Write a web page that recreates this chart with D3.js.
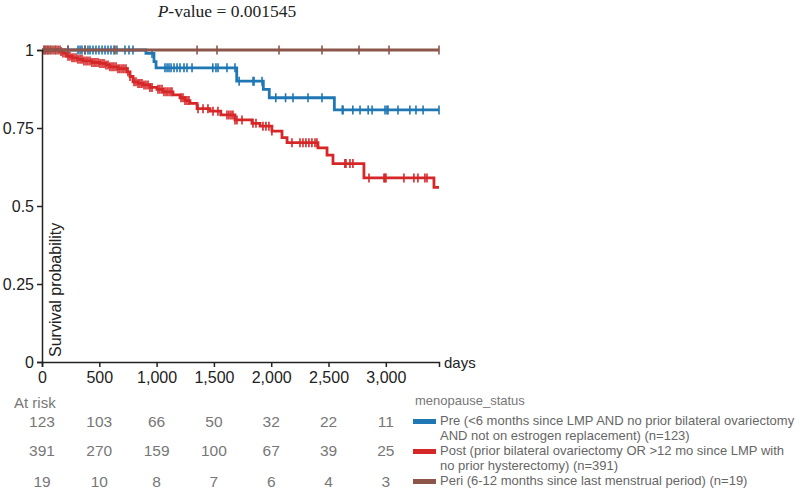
<!DOCTYPE html>
<html>
<head>
<meta charset="utf-8">
<script src="https://cdn.jsdelivr.net/npm/d3@7"></script>
<style>
body { margin: 0; background: white; }
svg { font-family: "Liberation Sans", Arial, sans-serif; }
</style>
</head>
<body>
<div id="chart"></div>
<script>
// step points [day, survival after event]
let preSteps = [[907, 0.989], [977, 0.9625], [995, 0.943], [1699, 0.900], [1931, 0.874], [1983, 0.847], [2551, 0.808]]
let postSteps = [[157, 0.995], [183, 0.990], [216, 0.980], [262, 0.975], [314, 0.970], [358, 0.965], [436, 0.960], [506, 0.957],
    [558, 0.952], [593, 0.946], [663, 0.940], [742, 0.930], [768, 0.915], [794, 0.898], [838, 0.893], [881, 0.888],
    [942, 0.880], [1003, 0.874], [1056, 0.866], [1143, 0.856], [1204, 0.847], [1248, 0.838], [1291, 0.829], [1353, 0.812],
    [1466, 0.804], [1560, 0.792], [1684, 0.776], [1832, 0.765], [1902, 0.756], [2006, 0.740], [2094, 0.719], [2138, 0.703],
    [2408, 0.686], [2487, 0.663], [2539, 0.636], [2809, 0.590], [3420, 0.560]]
let periSteps = []

let preCensor = [227, 314, 332, 349, 375, 401, 419, 445, 471, 497, 524, 550, 576, 602, 628, 654, 724, 759, 794, 960,
    1073, 1091, 1108, 1126, 1152, 1178, 1204, 1239, 1265, 1309, 1490, 1518, 1536, 1614, 1684, 1720, 1841, 1850, 1920,
    2040, 2125, 2190, 2321, 2443, 2620, 2627, 2712, 2775, 2846, 2880, 2993, 3010, 3019, 3106, 3210, 3263, 3325, 3464]
let postCensor = [17, 35, 52, 70, 96, 122, 140, 166, 183, 201, 227, 244, 262, 279, 297, 314, 332, 349, 366, 384, 401, 419,
    436, 454, 471, 489, 506, 524, 541, 558, 576, 593, 611, 628, 646, 663, 680, 698, 715, 733, 750, 768, 803, 820, 838,
    855, 872, 890, 907, 925, 942, 960, 1012, 1029, 1047, 1064, 1082, 1099, 1117, 1134, 1213, 1230, 1248, 1265, 1282,
    1361, 1405, 1448, 1492, 1535, 1614, 1631, 1649, 1666, 1684, 1701, 1745, 1841, 1867, 1928, 1954, 1980, 2006,
    2181, 2251, 2277, 2303, 2329, 2355, 2382, 2399, 2643, 2652, 2687, 2713, 2853, 2984, 2992, 3001, 3158, 3245, 3280,
    3341, 3359]
let periCensor = [26, 52, 79, 113, 157, 227, 375, 637, 1353, 1527, 2068, 2443, 2766, 3028, 3464]

let riskTimes = [0, 500, 1000, 1500, 2000, 2500, 3000]
let riskPre = [123, 103, 66, 50, 32, 22, 11]
let riskPost = [391, 270, 159, 100, 67, 39, 25]
let riskPeri = [19, 10, 8, 7, 6, 4, 3]

let yTicks = [0, 0.25, 0.5, 0.75, 1]
let yTickLabels = ["0", "0.25", "0.5", "0.75", "1"]
let xTicks = [0, 500, 1000, 1500, 2000, 2500, 3000]
let maxDay = 3464

let groups = [
    { steps: preSteps, censor: preCensor, risk: riskPre, color: "#1f77b4",
      label: ["Pre (<6 months since LMP AND no prior bilateral ovariectomy", "AND not on estrogen replacement) (n=123)"] },
    { steps: postSteps, censor: postCensor, risk: riskPost, color: "#d62728",
      label: ["Post (prior bilateral ovariectomy OR >12 mo since LMP with", "no prior hysterectomy) (n=391)"] },
    { steps: periSteps, censor: periCensor, risk: riskPeri, color: "#8c564b",
      label: ["Peri (6-12 months since last menstrual period) (n=19)"] }
]

let svg = d3.select("#chart").append("svg")
    .attr("width", 800)
    .attr("height", 490)

let x = d3.scaleLinear().domain([0, maxDay]).range([42, 439])
let y = d3.scaleLinear().domain([0, 1]).range([362, 50])

// title
let title = svg.append("text")
    .attr("x", 227)
    .attr("y", 17)
    .attr("text-anchor", "middle")
    .style("font-family", "'Liberation Serif', 'DejaVu Serif', serif")
    .style("font-size", "17.5px")
    .attr("fill", "#222")
title.append("tspan").style("font-style", "italic").text("P")
title.append("tspan").text("-value = 0.001545")

// survival value at time t from a step list
function survAt(steps, t) {
    let s = 1
    steps.forEach((d) => { if (d[0] <= t) s = d[1] })
    return s
}

let line = d3.line()
    .x((d) => x(d[0]))
    .y((d) => y(d[1]))
    .curve(d3.curveStepAfter)

groups.forEach((g) => {
    let pts = [[0, 1]].concat(g.steps).concat([[maxDay, survAt(g.steps, maxDay)]])
    svg.append("path")
        .attr("d", line(pts))
        .attr("fill", "none")
        .attr("stroke", g.color)
        .style("stroke-width", 2.8)

    svg.selectAll(null)
        .data(g.censor)
        .enter()
        .append("line")
        .attr("x1", (d) => x(d))
        .attr("x2", (d) => x(d))
        .attr("y1", (d) => y(survAt(g.steps, d)) - 4.5)
        .attr("y2", (d) => y(survAt(g.steps, d)) + 4.5)
        .attr("stroke", g.color)
        .style("stroke-width", 1.6)
})

// axes
let yAxis = svg.append("g")
    .attr("transform", "translate(42,0)")
    .call(d3.axisLeft(y).tickValues(yTicks).tickFormat((d, i) => yTickLabels[i]).tickSize(5).tickPadding(3))
let xAxis = svg.append("g")
    .attr("transform", "translate(0,362)")
    .call(d3.axisBottom(x).tickValues(xTicks).tickFormat(d3.format(",")).tickSize(5).tickPadding(5))

svg.selectAll(".tick text")
    .style("font-size", "16px")
    .style("font-family", "'Liberation Sans', Arial, sans-serif")
    .attr("fill", "#222")
svg.selectAll(".domain, .tick line").attr("stroke", "#222").style("stroke-width", 1.5)

svg.append("text")
    .attr("transform", "translate(61,357) rotate(-90)")
    .style("font-size", "16px")
    .attr("fill", "#222")
    .text("Survival probability")

svg.append("text")
    .attr("x", 444)
    .attr("y", 368)
    .style("font-size", "15px")
    .attr("fill", "#222")
    .text("days")

// at risk table
svg.append("text")
    .attr("x", 14)
    .attr("y", 408)
    .style("font-size", "15px")
    .attr("fill", "#777")
    .text("At risk")

let rowY = [427, 456, 487]
groups.forEach((g, gi) => {
    svg.selectAll(null)
        .data(g.risk)
        .enter()
        .append("text")
        .attr("x", (d, i) => x(riskTimes[i]))
        .attr("y", rowY[gi])
        .attr("text-anchor", "middle")
        .style("font-size", "15.5px")
        .attr("fill", "#777")
        .text((d) => d)
})

// legend
svg.append("text")
    .attr("x", 415)
    .attr("y", 405)
    .style("font-size", "13px")
    .attr("fill", "#777")
    .text("menopause_status")

let legY = [425, 455, 485]
groups.forEach((g, gi) => {
    svg.append("rect")
        .attr("x", 413)
        .attr("y", legY[gi] - 6)
        .attr("width", 23)
        .attr("height", 5)
        .attr("fill", g.color)
    g.label.forEach((t, li) => {
        svg.append("text")
            .attr("x", 440)
            .attr("y", legY[gi] + li * 15)
            .style("font-size", "13px")
            .attr("fill", "#666")
            .text(t)
    })
})
</script>
</body>
</html>
